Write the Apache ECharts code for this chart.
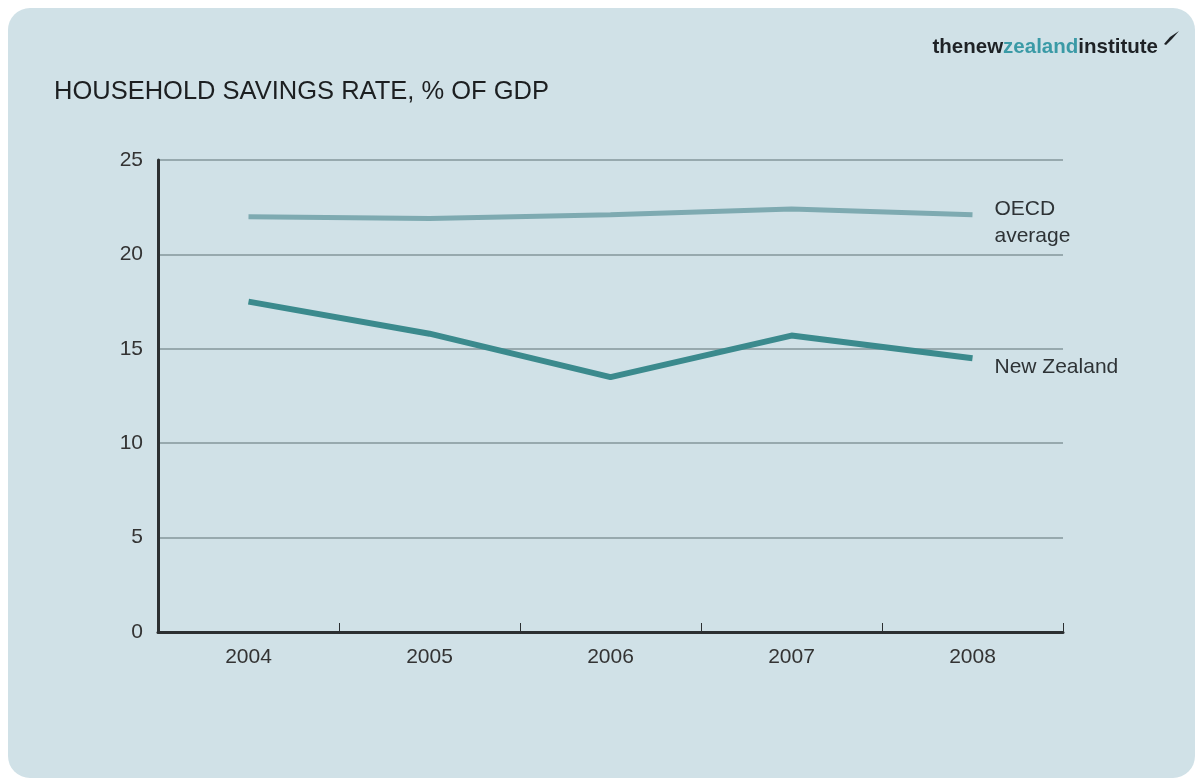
<!DOCTYPE html>
<html>
<head>
<meta charset="utf-8">
<script src="https://cdn.jsdelivr.net/npm/echarts@6/dist/echarts.min.js"></script>
<style>
  html, body { margin: 0; padding: 0; background: #ffffff; }
  #chart { width: 1203px; height: 784px; }
</style>
</head>
<body>
<div id="chart"></div>
<script>
// Household savings rate, % of GDP
const years = ['2004', '2005', '2006', '2007', '2008'];
const oecdAverage = [22.0, 21.9, 22.1, 22.4, 22.1];
const newZealand = [17.5, 15.8, 13.5, 15.7, 14.5];
const yTicks = [0, 5, 10, 15, 20, 25];

const FONT = '"Liberation Sans", Arial, sans-serif';
const chart = echarts.init(document.getElementById('chart'));

chart.setOption({
  backgroundColor: '#ffffff',
  animation: false,
  graphic: [
    {
      // rounded panel behind the chart
      type: 'rect',
      z: -10,
      silent: true,
      shape: { x: 8, y: 8, width: 1187, height: 770, r: 22 },
      style: { fill: '#d0e1e7' }
    },
    {
      // small quill mark after the logotype
      type: 'polygon',
      silent: true,
      shape: { points: [[1164, 44], [1170, 37], [1179, 31], [1172, 39], [1166, 45]] },
      style: { fill: '#1e2226' }
    }
  ],
  title: [
    {
      text: 'HOUSEHOLD SAVINGS RATE, % OF GDP',
      left: 49,
      top: 74,
      textStyle: { fontFamily: FONT, fontSize: 25.5, fontWeight: 'normal', color: '#1c1f21' }
    },
    {
      text: '{a|thenew}{b|zealand}{a|institute}',
      right: 40,
      top: 32,
      textStyle: {
        rich: {
          a: { fontFamily: FONT, fontSize: 20.5, fontWeight: 'bold', color: '#1e2226' },
          b: { fontFamily: FONT, fontSize: 20.5, fontWeight: 'bold', color: '#3a9aa6' }
        }
      }
    }
  ],
  grid: { left: 158, right: 140, top: 160, bottom: 152 },
  xAxis: {
    type: 'category',
    data: years,
    boundaryGap: true,
    axisLine: { lineStyle: { color: '#2b2f31', width: 3 } },
    axisTick: { show: true, inside: true, length: 9, lineStyle: { color: '#2b2f31', width: 1 } },
    axisLabel: { fontFamily: FONT, fontSize: 21, color: '#333333', margin: 15 },
    splitLine: { show: false }
  },
  yAxis: {
    type: 'value',
    min: yTicks[0],
    max: yTicks[yTicks.length - 1],
    interval: yTicks[1] - yTicks[0],
    axisLine: { show: true, lineStyle: { color: '#2b2f31', width: 3 } },
    axisTick: { show: false },
    axisLabel: { fontFamily: FONT, fontSize: 21, color: '#333333', margin: 15 },
    splitLine: { show: true, lineStyle: { color: '#97a9ae', width: 2 } }
  },
  series: [
    {
      name: 'OECD\naverage',
      type: 'line',
      data: oecdAverage,
      symbol: 'none',
      lineStyle: { color: '#7eaab1', width: 5 },
      endLabel: {
        show: true,
        formatter: '{a}',
        distance: 22,
        offset: [0, 8],
        fontFamily: FONT,
        fontSize: 21,
        lineHeight: 27,
        color: '#2e3336',
        align: 'left'
      }
    },
    {
      name: 'New Zealand',
      type: 'line',
      data: newZealand,
      symbol: 'none',
      lineStyle: { color: '#3b8a8d', width: 6 },
      endLabel: {
        show: true,
        formatter: '{a}',
        distance: 22,
        offset: [0, 9],
        fontFamily: FONT,
        fontSize: 21,
        color: '#2e3336',
        align: 'left'
      }
    }
  ]
});
</script>
</body>
</html>
